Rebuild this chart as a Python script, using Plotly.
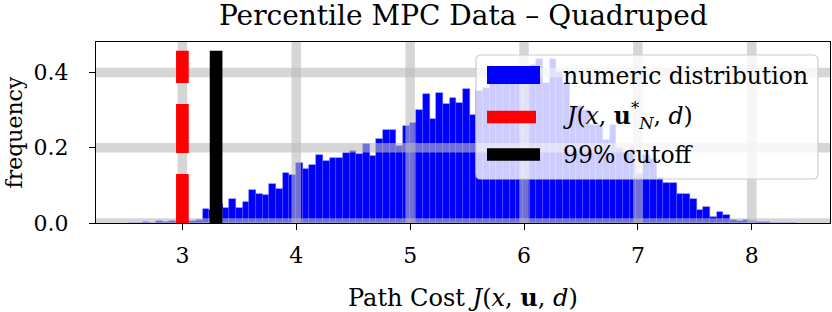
import plotly.graph_objects as go

# ---------------- data ----------------
hist_bin_min = 2.534
hist_bin_max = 8.394
n_bins = 100
freq = [
    0.0005, 0.001, 0.002, 0.001, 0.004, 0.002, 0.005, 0.006, 0.011, 0.004,
    0.007, 0.038, 0.035, 0.050, 0.040, 0.064, 0.040, 0.055, 0.087, 0.078,
    0.075, 0.103, 0.091, 0.133, 0.127, 0.159, 0.143, 0.154, 0.181, 0.165,
    0.174, 0.174, 0.187, 0.191, 0.183, 0.210, 0.177, 0.224, 0.246, 0.248,
    0.204, 0.259, 0.265, 0.300, 0.342, 0.276, 0.345, 0.315, 0.333, 0.318,
    0.357, 0.287, 0.350, 0.360, 0.380, 0.370, 0.400, 0.390, 0.410, 0.400,
    0.420, 0.436, 0.371, 0.436, 0.400, 0.370, 0.310, 0.310, 0.300, 0.260,
    0.260, 0.220, 0.260, 0.200, 0.190, 0.200, 0.130, 0.180, 0.170, 0.120,
    0.106, 0.106, 0.078, 0.078, 0.065, 0.035, 0.042, 0.015, 0.029, 0.022,
    0.008, 0.004, 0.008, 0.004, 0.002, 0.003, 0.001, 0.001, 0.000, 0.0005,
]
j_opt = 3.0          # J(x, u*_N, d)
cutoff_99 = 3.296    # 99% cutoff
vline_top = 0.458
x_ticks = [3, 4, 5, 6, 7, 8]
y_ticks = [0.0, 0.2, 0.4]
y_tick_labels = ["0.0", "0.2", "0.4"]
x_range = [2.2414, 8.687]
y_range = [0.0, 0.481]

title_text = "Percentile MPC Data \u2013 Quadruped"
xlabel = "Path Cost <i>J</i>(<i>x</i>, <b>u</b>, <i>d</i>)"
ylabel = "frequency"
legend_labels = [
    "numeric distribution",
    "<i>J</i>(<i>x</i>, <b>u</b><sup>*</sup><sub><i>N</i></sub>, <i>d</i>)",
    "99% cutoff",
]

# ---------------- figure ----------------
W, H = 832, 312
ML, MR, MT, MB = 96, 2, 42, 89
PX0, PX1, PY0, PY1 = ML, W - MR, MT, H - MB
FONT = "DejaVu Serif"

def px(xp):
    return (xp - PX0) / (PX1 - PX0)

def py(yp):
    return (PY1 - yp) / (PY1 - PY0)

bin_width = (hist_bin_max - hist_bin_min) / n_bins
centers = [hist_bin_min + (i + 0.5) * bin_width for i in range(n_bins)]

fig = go.Figure()
fig.add_trace(go.Bar(
    x=centers, y=freq, width=bin_width,
    marker=dict(color="blue", line=dict(color="rgba(90,90,255,0.6)", width=0.6)),
    showlegend=False, hoverinfo="skip",
))

shapes = []
grid_col = "rgba(187,187,187,0.6)"
for t in x_ticks:
    shapes.append(dict(type="line", xref="x", yref="paper", x0=t, x1=t, y0=0, y1=1,
                       line=dict(color=grid_col, width=9.5), layer="above"))
for t in y_ticks:
    shapes.append(dict(type="line", xref="paper", yref="y", x0=0, x1=1, y0=t, y1=t,
                       line=dict(color=grid_col, width=9.5), layer="above"))
# vertical markers
shapes.append(dict(type="line", xref="x", yref="y", x0=j_opt, x1=j_opt, y0=0, y1=vline_top,
                   line=dict(color="red", width=12.7, dash="49px,21px"), layer="above"))
shapes.append(dict(type="line", xref="x", yref="y", x0=cutoff_99, x1=cutoff_99, y0=0, y1=vline_top,
                   line=dict(color="black", width=12.7), layer="above"))

# legend box (rounded)
lx0, lx1, ly0, ly1, r = 476, 818, 55, 179, 5
def P(a, b):
    return f"{px(a):.5f},{py(b):.5f}"
path = (f"M{P(lx0 + r, ly0)} L{P(lx1 - r, ly0)} Q{P(lx1, ly0)} {P(lx1, ly0 + r)} "
        f"L{P(lx1, ly1 - r)} Q{P(lx1, ly1)} {P(lx1 - r, ly1)} L{P(lx0 + r, ly1)} "
        f"Q{P(lx0, ly1)} {P(lx0, ly1 - r)} L{P(lx0, ly0 + r)} Q{P(lx0, ly0)} {P(lx0 + r, ly0)} Z")
shapes.append(dict(type="path", xref="paper", yref="paper", path=path,
                   fillcolor="rgba(255,255,255,0.8)", line=dict(color="rgb(204,204,204)", width=1.2),
                   layer="above"))
# legend handles
shapes.append(dict(type="rect", xref="paper", yref="paper", x0=px(487), x1=px(540), y0=py(84), y1=py(66),
                   fillcolor="blue", line=dict(width=0), layer="above"))
shapes.append(dict(type="line", xref="paper", yref="paper", x0=px(487), x1=px(540), y0=py(117), y1=py(117),
                   line=dict(color="red", width=12.7, dash="49px,21px"), layer="above"))
shapes.append(dict(type="line", xref="paper", yref="paper", x0=px(487), x1=px(540), y0=py(154.5), y1=py(154.5),
                   line=dict(color="black", width=12.7), layer="above"))

annotations = []
for lab, yy in zip(legend_labels, [76, 116, 155]):
    annotations.append(dict(xref="paper", yref="paper", x=px(561), y=py(yy), text=lab,
                            showarrow=False, xanchor="left", yanchor="middle",
                            font=dict(family=FONT, size=23.5, color="black")))
# title and axis titles
annotations.append(dict(xref="paper", yref="paper", x=0.5, y=py(16), text=title_text,
                        showarrow=False, xanchor="center", yanchor="middle",
                        font=dict(family=FONT, size=28, color="black")))
annotations.append(dict(xref="paper", yref="paper", x=0.5, y=py(297), text=xlabel,
                        showarrow=False, xanchor="center", yanchor="middle",
                        font=dict(family=FONT, size=24, color="black")))
annotations.append(dict(xref="paper", yref="paper", x=px(14), y=0.5, text=ylabel, textangle=-90,
                        showarrow=False, xanchor="center", yanchor="middle",
                        font=dict(family=FONT, size=22, color="black")))

fig.update_layout(
    width=W, height=H,
    margin=dict(l=ML, r=MR, t=MT, b=MB, autoexpand=False),
    paper_bgcolor="white", plot_bgcolor="white",
    shapes=shapes, annotations=annotations,
    bargap=0, showlegend=False,
    font=dict(family=FONT, color="black"),
)
fig.update_xaxes(range=x_range, tickvals=x_ticks, showgrid=False, zeroline=False, automargin=False,
                 showline=True, mirror=True, linecolor="black", linewidth=1.3,
                 ticks="outside", ticklen=6, tickwidth=1.3, tickcolor="black",
                 tickfont=dict(family=FONT, size=22), ticklabelstandoff=6)
fig.update_yaxes(range=y_range, tickvals=y_ticks, ticktext=y_tick_labels, showgrid=False, zeroline=False,
                 automargin=False,
                 showline=True, mirror=True, linecolor="black", linewidth=1.3,
                 ticks="outside", ticklen=6, tickwidth=1.3, tickcolor="black",
                 tickfont=dict(family=FONT, size=22), ticklabelstandoff=16)

fig.write_html("out.html", config={"displayModeBar": False},
               post_script="document.body.style.margin='0';document.body.style.overflow='hidden';")
